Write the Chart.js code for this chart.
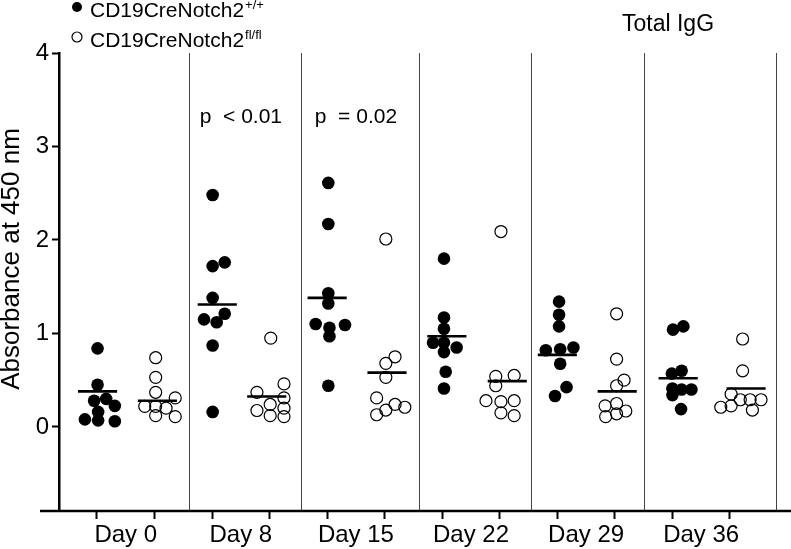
<!DOCTYPE html>
<html>
<head>
<meta charset="utf-8">
<script src="https://cdn.jsdelivr.net/npm/chart.js@4/dist/chart.umd.min.js"></script>
<style>
  html, body { margin: 0; padding: 0; background: #fff; }
  #wrap { position: relative; width: 791px; height: 549px; }
</style>
</head>
<body>
<div id="wrap"><canvas id="chart" width="791" height="549"></canvas></div>
<script>
const days = ['Day 0', 'Day 8', 'Day 15', 'Day 22', 'Day 29', 'Day 36'];
const groupNames = ['CD19CreNotch2', 'CD19CreNotch2'];
const groupSup = ['+/+', 'fl/fl'];
const pLabels = ['', 'p  < 0.01', 'p  = 0.02', '', '', ''];
const yTicks = [0, 1, 2, 3, 4];

// absorbance per mouse, one row per day (+/+ mice)
const wtValues = [
  [0.84, 0.45, 0.28, 0.30, 0.225, 0.16, 0.08, 0.07, 0.06],
  [2.48, 1.76, 1.72, 1.38, 1.21, 1.15, 1.12, 0.87, 0.16],
  [2.61, 2.17, 1.43, 1.32, 1.10, 1.09, 1.06, 0.97, 0.44],
  [1.80, 1.17, 1.05, 0.90, 0.90, 0.85, 0.80, 0.59, 0.41],
  [1.34, 1.20, 1.075, 0.85, 0.83, 0.82, 0.675, 0.425, 0.33],
  [1.075, 1.04, 0.60, 0.57, 0.41, 0.40, 0.40, 0.34, 0.19]
];
// horizontal scatter of each dot, in tick units
const wtJitter = [
  [0.01, 0.01, -0.05, 0.16, 0.31, 0.02, -0.21, 0.02, 0.31],
  [0.01, 0.22, 0.01, 0.01, 0.22, -0.14, 0.08, 0.01, 0.01],
  [0.02, 0.02, 0.02, 0.02, -0.2, 0.31, 0.04, 0.04, 0.02],
  [0.03, 0.03, 0.03, -0.16, 0.03, 0.25, 0.03, 0.06, 0.03],
  [0.03, 0.03, 0.03, 0.28, 0.05, -0.2, 0.05, 0.16, -0.04],
  [0.19, 0.01, 0.16, -0.01, 0, 0.16, 0.33, 0, 0.15]
];
// fl/fl mice
const koValues = [
  [0.74, 0.53, 0.37, 0.31, 0.22, 0.22, 0.20, 0.12, 0.11],
  [0.95, 0.46, 0.37, 0.31, 0.24, 0.20, 0.175, 0.12, 0.11],
  [2.01, 0.75, 0.68, 0.53, 0.31, 0.24, 0.21, 0.18, 0.13],
  [2.09, 0.55, 0.54, 0.44, 0.28, 0.28, 0.27, 0.15, 0.12],
  [1.21, 0.725, 0.50, 0.44, 0.25, 0.225, 0.17, 0.14, 0.11],
  [0.94, 0.60, 0.35, 0.29, 0.29, 0.29, 0.225, 0.21, 0.18]
];
const koJitter = [
  [0.02, 0.02, 0.02, 0.36, -0.17, 0.02, 0.2, 0.02, 0.36],
  [0.02, 0.25, -0.22, 0.25, 0.01, 0.25, -0.22, 0.01, 0.25],
  [0.02, 0.18, 0.02, 0.02, -0.14, 0.18, 0.35, 0.02, -0.14],
  [0.02, 0.25, -0.07, -0.07, -0.24, 0.25, 0.02, 0.02, 0.25],
  [0.03, 0.03, 0.16, 0.03, 0.03, -0.17, 0.19, 0.03, -0.16],
  [0.22, 0.22, 0.02, 0.18, 0.35, 0.54, 0.02, -0.16, 0.39]
];
// mean bars
const wtMeans = [0.38, 1.31, 1.38, 0.97, 0.77, 0.52];
const koMeans = [0.28, 0.325, 0.58, 0.49, 0.38, 0.41];
const wtMeanShift = [0.01, 0.09, 0, 0.08, 0, 0.1];
const koMeanShift = [0.05, -0.05, 0.04, 0.13, 0.04, 0.28];

const FONT = "'Liberation Sans', Arial, sans-serif";
const X_MIN = 0.34, X_MAX = 12.8;
const separators = [2.6, 4.55, 6.6, 8.55, 10.52, X_MAX];
const MEAN_HALF = 0.34;

function points(values, jitter, slot) {
  const out = [];
  values.forEach((row, d) => {
    row.forEach((v, i) => out.push({ x: 2 * d + slot + jitter[d][i], y: v }));
  });
  return out;
}

function meanSegments(means, shift, slot) {
  const out = [];
  means.forEach((m, d) => {
    const c = 2 * d + slot + shift[d];
    out.push({ x: c - MEAN_HALF, y: m }, { x: c + MEAN_HALF, y: m }, { x: c + MEAN_HALF, y: null });
  });
  return out;
}

const isInt = v => Math.abs(v - Math.round(v)) < 1e-6;
const isHalf = v => Math.abs(v - Math.floor(v) - 0.5) < 1e-6 && Math.floor(v) % 2 === 1;
const isSep = v => separators.some(s => Math.abs(s - v) < 1e-6);

const textPlugin = {
  id: 'texts',
  afterDraw(chart) {
    const ctx = chart.ctx;
    const area = chart.chartArea;
    const xs = chart.scales.x, ys = chart.scales.y;
    ctx.save();
    ctx.fillStyle = '#000';
    ctx.strokeStyle = '#000';

    // x axis line runs past the plot on both sides
    ctx.lineWidth = 2.5;
    ctx.beginPath();
    ctx.moveTo(area.left - 19, area.bottom);
    ctx.lineTo(chart.width, area.bottom);
    ctx.stroke();

    // y axis title
    ctx.save();
    ctx.translate(12, 259);
    ctx.rotate(-Math.PI / 2);
    ctx.font = '26px ' + FONT;
    ctx.textAlign = 'center';
    ctx.textBaseline = 'middle';
    ctx.fillText('Absorbance at 450 nm', 0, 0);
    ctx.restore();

    // legend
    const rows = [7, 37];
    rows.forEach((y, i) => {
      ctx.beginPath();
      ctx.arc(77, y, 5, 0, Math.PI * 2);
      if (i === 0) { ctx.fill(); } else { ctx.lineWidth = 1.2; ctx.stroke(); }
      ctx.font = '21px ' + FONT;
      ctx.textAlign = 'left';
      ctx.textBaseline = 'alphabetic';
      ctx.fillText(groupNames[i], 90, y + 9.5);
      const w = ctx.measureText(groupNames[i]).width;
      ctx.font = '13px ' + FONT;
      ctx.fillText(groupSup[i], 90 + w + 1, y + 1.5);
    });

    // panel title
    ctx.font = '23px ' + FONT;
    ctx.textAlign = 'center';
    ctx.textBaseline = 'middle';
    ctx.fillText('Total IgG', 668, 25);

    // p values
    ctx.font = '21px ' + FONT;
    pLabels.forEach((p, d) => {
      if (!p) return;
      ctx.fillText(p, xs.getPixelForValue(2 * d + 1.5), ys.getPixelForValue(3.31));
    });
    ctx.restore();
  }
};

new Chart(document.getElementById('chart'), {
  type: 'scatter',
  data: {
    datasets: [
      {
        type: 'line',
        data: meanSegments(wtMeans, wtMeanShift, 1).concat(meanSegments(koMeans, koMeanShift, 2)),
        borderColor: '#000',
        borderWidth: 2.6,
        pointRadius: 0,
        spanGaps: false,
        fill: false
      },
      {
        label: groupNames[0] + groupSup[0],
        data: points(wtValues, wtJitter, 1),
        pointRadius: 6.3,
        backgroundColor: '#000',
        borderColor: '#000',
        borderWidth: 0
      },
      {
        label: groupNames[1] + groupSup[1],
        data: points(koValues, koJitter, 2),
        pointRadius: 6,
        backgroundColor: 'rgba(255,255,255,0)',
        borderColor: '#000',
        borderWidth: 1.2
      }
    ]
  },
  options: {
    responsive: false,
    animation: false,
    layout: { padding: { top: 53, right: 15, left: 0, bottom: 0 } },
    plugins: { legend: { display: false }, tooltip: { enabled: false } },
    scales: {
      x: {
        type: 'linear',
        min: X_MIN,
        max: X_MAX,
        afterBuildTicks(scale) {
          const vals = [];
          for (let i = 1; i <= 12; i++) vals.push(i);
          days.forEach((d, i) => vals.push(2 * i + 1.5));
          separators.forEach(s => vals.push(s));
          vals.sort((a, b) => a - b);
          scale.ticks = vals.map(v => ({ value: v }));
        },
        afterFit(scale) { scale.height = 38; },
        border: { display: false },
        grid: {
          drawOnChartArea: true,
          color: c => (c.tick && isSep(c.tick.value)) ? '#444' : 'rgba(0,0,0,0)',
          lineWidth: 1,
          tickColor: c => (c.tick && isInt(c.tick.value)) ? '#000' : 'rgba(0,0,0,0)',
          tickLength: 8,
          tickWidth: 2
        },
        ticks: {
          autoSkip: false,
          maxRotation: 0,
          padding: 2,
          color: '#000',
          font: { family: FONT, size: 24 },
          callback: v => isHalf(v) ? days[(v - 1.5) / 2] : ''
        }
      },
      y: {
        min: -0.9,
        max: 4,
        afterBuildTicks(scale) { scale.ticks = yTicks.map(v => ({ value: v })); },
        afterFit(scale) { scale.width = 59; },
        border: { display: true, color: '#000', width: 2.5 },
        grid: { drawOnChartArea: false, tickColor: '#000', tickLength: 7, tickWidth: 2 },
        ticks: {
          padding: 3,
          color: '#000',
          font: { family: FONT, size: 24 }
        }
      }
    }
  },
  plugins: [textPlugin]
});
</script>
</body>
</html>
